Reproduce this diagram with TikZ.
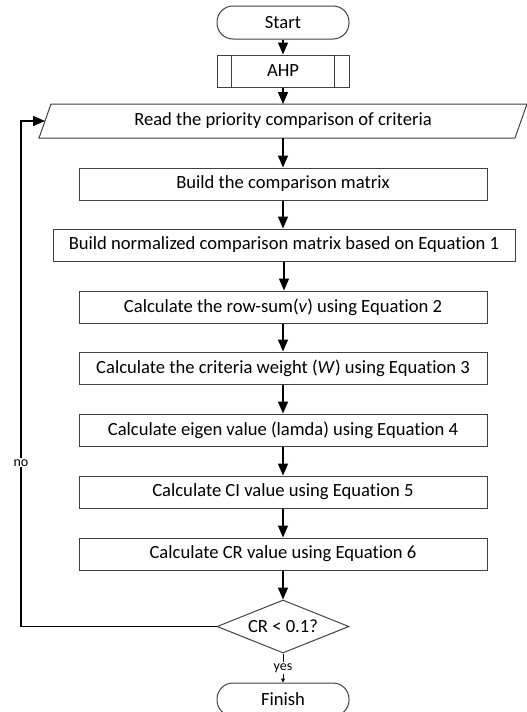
\documentclass[tikz,border=0pt]{standalone}
\usepackage{fontspec}
\setmainfont{Carlito}[Ligatures=NoCommon]
\usetikzlibrary{arrows.meta,shapes.geometric}

\definecolor{boxgray}{RGB}{64,64,64}

\tikzset{every picture/.style={line width=1pt}}
\tikzset{
  boxline/.style={draw=boxgray, line width=1pt},
  basebox/.style={draw=boxgray, line width=1pt, inner sep=0pt, font=\fontsize{18.6}{20}\selectfont},
  termbox/.style={basebox, rectangle, rounded corners=16pt, minimum width=132pt, minimum height=33pt},
  ahpbox/.style={basebox, rectangle, minimum width=132pt, minimum height=32pt},
  inbox/.style={rectangle, inner sep=0pt, minimum width=475pt, minimum height=33pt, font=\fontsize{18.6}{20}\selectfont},
  procbox/.style={basebox, rectangle, minimum width=408pt, minimum height=32pt},
  decbox/.style={basebox, diamond, aspect=2.5, minimum width=132pt, minimum height=53pt},
  flow/.style={line width=1.5pt, -{Triangle[length=12pt,width=10pt]}},
  thinflow/.style={line width=1pt, -{Triangle[length=4pt,width=4pt]}},
  smalltext/.style={inner sep=1pt, font=\fontsize{14}{16}\selectfont}
}

\begin{document}
\begin{tikzpicture}[x=1pt,y=1pt,yscale=-1]
\useasboundingbox (0,0) rectangle (527,712);

% Start and sub-process
\node [termbox] (start) at (283,22.5) {Start};
\node [ahpbox] (ahp) at (283,71) {AHP};
\draw [boxline] ([xshift=15pt]ahp.north west) -- ([xshift=15pt]ahp.south west);
\draw [boxline] ([xshift=-15pt]ahp.north east) -- ([xshift=-15pt]ahp.south east);

% Input (parallelogram)
\node [inbox] (read) at (283,121) {Read the priority comparison of criteria};
\draw [boxline] ([xshift=6pt]read.north west) -- ([xshift=6pt]read.north east)
  -- ([xshift=-6pt]read.south east) -- ([xshift=-6pt]read.south west) -- cycle;

% Process steps
\node [procbox] (comp) at (283,184) {Build the comparison matrix};
\node [procbox, minimum width=462pt] (norm) at (284,245) {Build normalized comparison matrix based on Equation 1};
\node [procbox] (rowsum) at (283,307) {Calculate the row-sum(\textit{v}) using Equation 2};
\node [procbox] (weight) at (283,368) {Calculate the criteria weight (\textit{W}) using Equation 3};
\node [procbox] (eigen) at (283,430) {Calculate eigen value (lamda) using Equation 4};
\node [procbox] (ci) at (283,492) {Calculate CI value using Equation 5};
\node [procbox] (cr) at (283,554) {Calculate CR value using Equation 6};

% Decision and end
\node [decbox] (check) at (283,626.5) {CR < 0.1?};
\node [termbox] (finish) at (283,699.5) {Finish};

% Main flow
\foreach \a/\b in {start/ahp, ahp/read, read/comp, comp/norm, norm/rowsum, rowsum/weight, weight/eigen, eigen/ci, ci/cr, cr/check}
  \draw [flow] (\a.south) -- (\a.south |- \b.north);

\draw [thinflow] (check.south) -- node [smalltext, fill=white] (yeslabel) {yes} (finish.north);

% Loop back
\coordinate (loopcorner) at (21,626.5);
\draw [flow] (check.west) -- (loopcorner) |- node [pos=0.162, smalltext, fill=white] (nolabel) {no} (read.west);

\end{tikzpicture}
\end{document}
